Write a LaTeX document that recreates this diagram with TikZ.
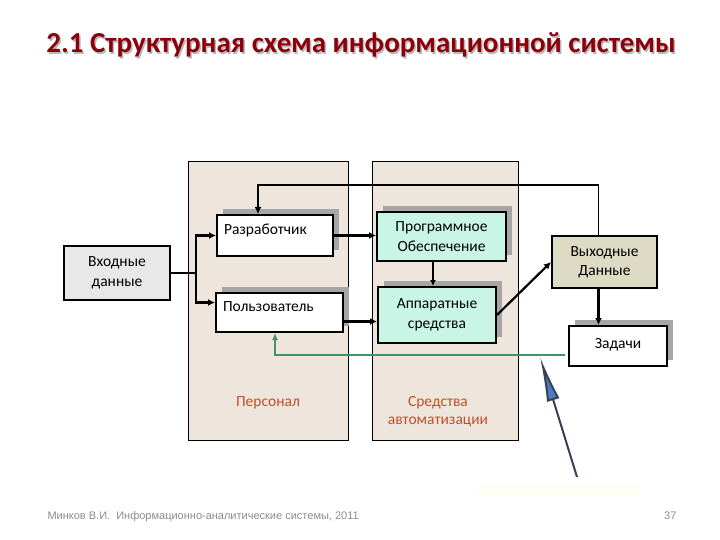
\documentclass[tikz,border=0pt]{standalone}
\usepackage{fontspec}
\setmainfont{Carlito}
\newfontfamily\footfont{Liberation Sans}
\usetikzlibrary{arrows.meta,shadows}

\definecolor{panelfill}{RGB}{238,229,221}
\definecolor{softfill}{RGB}{200,245,230}
\definecolor{outfill}{RGB}{221,219,196}
\definecolor{infill}{RGB}{232,232,232}
\definecolor{shadegray}{RGB}{166,166,166}
\definecolor{fbgreen}{RGB}{70,145,105}
\definecolor{labelred}{RGB}{192,80,40}
\definecolor{titlered}{RGB}{140,0,12}
\definecolor{bluetip}{RGB}{74,124,192}
\definecolor{bluedark}{RGB}{55,65,85}

\tikzset{
  unit/.style={draw, line width=2pt, align=center, inner sep=2pt,
    font=\fontsize{15.5}{19.5}\selectfont},
  shaded/.style={general shadow={fill=shadegray, shadow xshift=6pt, shadow yshift=6pt}},
  leftunit/.style={unit, shaded, fill=white, align=left, inner xsep=7pt,
    text height=10pt, text depth=12pt},
  panel/.style={draw, fill=panelfill, line width=1pt},
  panellabel/.style={text=labelred, align=center, font=\fontsize{15.5}{18}\selectfont},
  flow/.style={line width=2.2pt, -{Latex[length=7pt,width=7pt]}},
  titletext/.style={anchor=base, font=\fontsize{29}{34}\selectfont\bfseries}
}

\begin{document}
\begin{tikzpicture}[x=1pt,y=-1pt]
  \useasboundingbox (0,0) rectangle (720,540);

  % title
  \node[titletext, text=gray!55] (titleshadow) at (362.5,54.5) {2.1 Структурная схема информационной системы};
  \node[titletext, text=titlered] (title) at (361,53) {2.1 Структурная схема информационной системы};

  % panels
  \draw[panel] (188,162) rectangle (348,440);
  \draw[panel] (372,162) rectangle (518,440);
  \node[panellabel] (staff) at (268,403) {Персонал};
  \node[panellabel] (tools) at (438,412) {Средства\\автоматизации};

  % boxes
  \node[unit, fill=infill, line width=1.5pt, minimum width=106pt, minimum height=54pt] (in) at (117,273) {Входные\\данные};
  \node[leftunit, minimum width=116pt, minimum height=41pt, text width=102pt] (dev) at (275,235.5) {Разработчик};
  \node[leftunit, minimum width=127pt, minimum height=39pt, text width=113pt] (user) at (279.5,312.5) {Пользователь};
  \node[unit, shaded, fill=softfill, minimum width=129pt, minimum height=49pt] (soft) at (441.5,236.5) {Программное\\Обеспечение};
  \node[unit, shaded, fill=softfill, minimum width=118pt, minimum height=56pt] (hw) at (437,315) {Аппаратные\\средства};
  \node[unit, fill=outfill, minimum width=105pt, minimum height=52pt] (out) at (604.5,262) {Выходные\\Данные};
  \node[unit, shaded, fill=white, minimum width=98pt, minimum height=40pt, text depth=5pt] (tasks) at (618,346) {Задачи};

  % connectors
  \coordinate (split) at (196,273);
  \draw[line width=2.2pt] (in.east) -- (split);
  \draw[flow] (split) |- (dev.west);
  \draw[flow] (split) |- ([yshift=10pt]user.west);
  \draw[flow] (dev.east) -- (dev.east -| soft.west);
  \draw[flow] ([yshift=-9pt]user.east) -- ([yshift=-9pt]user.east -| hw.west);
  \draw[line width=2pt, -{Latex[length=6pt,width=6pt]}] (soft.south -| 433,0) -- (hw.north -| 433,0);
  \draw[flow] (hw.east) -- (out.west);
  \draw[flow] ([xshift=-6pt]out.south) -- ([xshift=-6pt]out.south |- tasks.north);

  % feedback loop
  \coordinate (loop) at (258,185);
  \draw[line width=1.5pt, -{Latex[length=7pt,width=7pt]}] ([xshift=-6pt]out.north) |- (loop) -- (loop |- dev.north);

  \coordinate (gend) at (565,355);
  \coordinate (fb) at (275,355);
  \draw[fbgreen, line width=2pt, -{Latex[length=7pt,width=6pt]}] (gend) -- (fb) -- (fb |- user.south);

  % pointer
  \fill[yellow!4] (478,485) rectangle (640,496);
  \coordinate (bluetail) at (577,477);
  \coordinate (bluehead) at (540,357);
  \draw[bluedark, line width=2pt, -{Latex[length=45pt,width=13pt,fill=bluetip]}] (bluetail) -- (bluehead);

  % footer
  \node[anchor=base west, text=gray!90, font=\footfont\fontsize{11}{13}\selectfont] (author) at (44,519) {Минков В.И.\ \ Информационно-аналитические системы, 2011};
  \node[anchor=base east, text=gray!90, font=\footfont\fontsize{11}{13}\selectfont] (page) at (680,519) {37};
\end{tikzpicture}
\end{document}
